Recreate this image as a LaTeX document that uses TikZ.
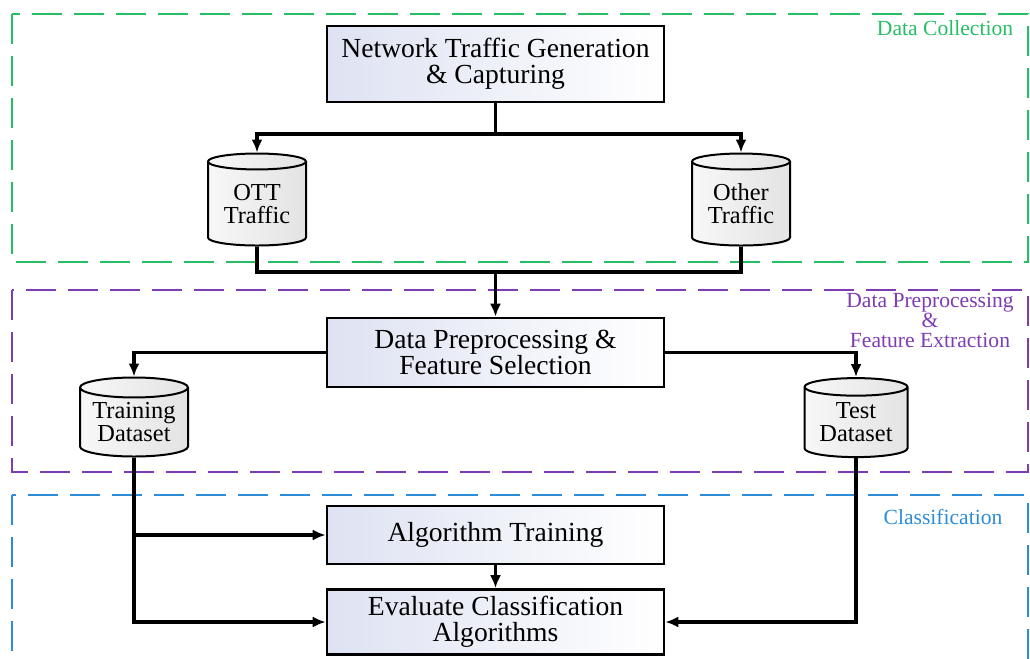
\documentclass[tikz,border=0pt]{standalone}
\usepackage{fontspec}
\setmainfont{Liberation Serif}
\newfontfamily\figfont{Liberation Serif}
\usetikzlibrary{calc,arrows,arrows.meta,shapes.geometric}
\definecolor{dcgreen}{RGB}{38,190,100}
\definecolor{dppurple}{RGB}{125,60,180}
\definecolor{clblue}{RGB}{45,140,215}
\definecolor{boxshade}{RGB}{222,226,242}

\tikzset{
	procbox/.style={draw,line width=1.3pt,left color=boxshade,right color=white,
		minimum width=168.5pt,align=center,font=\figfont\fontsize{13.8}{13.2}\selectfont},
	dbase/.style={cylinder,shape border rotate=90,aspect=0.24,draw,line width=1pt,
		left color=gray!6,right color=gray!22,align=center,inner sep=0pt,
		font=\figfont\fontsize{12.2}{11.5}\selectfont},
	conn/.style={line width=1.6pt},
	frame/.style={line width=1.3pt,dash pattern=on 15pt off 6pt},
	tag/.style={align=center,font=\figfont\fontsize{10.8}{10}\selectfont}
}

\begin{document}
\begin{tikzpicture}[x=0.5pt,y=-0.5pt,>={Latex[length=6.5pt,width=5.5pt]}]
	\useasboundingbox (0,0) rectangle (1030,659);
	\clip (0,0) rectangle (1030,659);
	\draw[frame,dcgreen] (12,14) rectangle (1028,262);
	\draw[frame,dppurple] (12,290) rectangle (1028,472);
	\draw[frame,clblue] (12,495) rectangle (1028,720);
	\node[tag,text=dcgreen] (dctag) at (945,28) {Data Collection};
	\node[tag,text=dppurple] (dptag) at (930,320) {Data Preprocessing\\\&\\Feature Extraction};
	\node[tag,text=clblue] (cltag) at (943,517) {Classification};

	\node[procbox,minimum height=38pt] (capture) at (495.5,64) {Network Traffic Generation\\\& Capturing};
	\node[dbase,minimum width=49pt,minimum height=46pt] (ott) at (257,204) {OTT\\Traffic};
	\node[dbase,minimum width=49pt,minimum height=46pt] (other) at (741,204) {Other\\Traffic};
	\node[procbox,minimum height=34.5pt] (prep) at (495.5,352.5) {Data Preprocessing \&\\Feature Selection};
	\node[dbase,minimum width=54pt,minimum height=39.5pt] (train) at (134,422.5) {Training\\Dataset};
	\node[dbase,minimum width=51.5pt,minimum height=39.5pt] (test) at (856,422.5) {Test\\Dataset};
	\node[procbox,minimum height=29pt] (algo) at (495.5,535) {Algorithm Training};
	\node[procbox,minimum height=30pt] (eval) at (495.5,622) {Evaluate Classification\\Algorithms};

	\coordinate (split) at (495.5,134);
	\coordinate (merge) at (495.5,272);
	\draw[conn] (capture.south) -- (split);
	\draw[conn,->] (split) -| (ott.top);
	\draw[conn,->] (split) -| (other.top);
	\draw[conn] (ott.bottom) |- (merge) -| (other.bottom);
	\draw[conn,->] (merge) -- (prep.north);
	\draw[conn,->] (prep.west) -| (train.top);
	\draw[conn,->] (prep.east) -| (test.top);
	\draw[conn,->] (train.bottom |- algo.west) -- (algo.west);
	\draw[conn,->] (train.bottom) |- (eval.west);
	\draw[conn,->] (test.bottom) |- (eval.east);
	\draw[conn,->] (algo.south) -- (eval.north);
\end{tikzpicture}
\end{document}
